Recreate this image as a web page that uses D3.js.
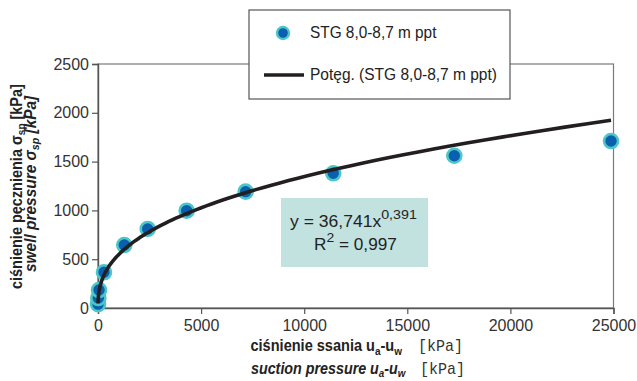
<!DOCTYPE html>
<html>
<head>
<meta charset="utf-8">
<script src="https://cdn.jsdelivr.net/npm/d3@7"></script>
<style>
  body { margin: 0; background: #fff; }
  svg { display: block; font-family: "Liberation Sans", Arial, sans-serif; }
</style>
</head>
<body>
<script>
// measured points (suction pressure kPa, swell pressure kPa)
const suction = [2, 15, 50, 290, 1275, 2410, 4300, 7160, 11410, 17280, 24880];
const swell = [40, 102, 184, 366, 645, 810, 997, 1192, 1380, 1560, 1711];
const xTicks = [0, 5000, 10000, 15000, 20000, 25000];
const yTicks = [0, 500, 1000, 1500, 2000, 2500];
// power trendline y = a * x^b
const fitA = 36.741;
const fitB = 0.391;
const rSquared = '0,997';
const seriesName = 'STG 8,0-8,7 m ppt';

const width = 637, height = 381;
const svg = d3.select('body').append('svg')
  .attr('width', width)
  .attr('height', height);

// squeeze a text element horizontally so it starts at `left` and is `w` wide
function fit(sel, left, w) {
  const bb = sel.node().getBBox();
  const k = w / bb.width;
  sel.attr('transform', `translate(${left},0) scale(${k},1) translate(${-bb.x},0)`);
  return sel;
}

const x = d3.scaleLinear().domain([0, 25000]).range([98, 613.5]);
const y = d3.scaleLinear().domain([0, 2500]).range([308, 64]);

// plot border
svg.append('rect')
  .attr('x', x(0)).attr('y', y(2500))
  .attr('width', x(25000) - x(0)).attr('height', y(0) - y(2500))
  .attr('fill', 'none').attr('stroke', '#7a7a7a').attr('stroke-width', 1.2);

// axes
const xAxis = svg.append('g')
  .attr('transform', `translate(0,${y(0)})`)
  .call(d3.axisBottom(x).tickValues(xTicks).tickSize(6).tickPadding(6).tickFormat(d3.format('d')));
const yAxis = svg.append('g')
  .attr('transform', `translate(${x(0)},0)`)
  .call(d3.axisLeft(y).tickValues(yTicks).tickSize(6).tickPadding(3).tickFormat(d3.format('d')));
[xAxis, yAxis].forEach(g => {
  g.select('.domain').attr('stroke', '#555').attr('stroke-width', 1.4);
  g.selectAll('.tick line').attr('stroke', '#555').attr('stroke-width', 1.2);
  g.selectAll('.tick text')
    .attr('font-family', '"Liberation Sans", Arial, sans-serif')
    .attr('font-size', 16).attr('fill', '#333');
});

// equation box
svg.append('rect')
  .attr('x', 281).attr('y', 198).attr('width', 147).attr('height', 69)
  .attr('fill', '#c2e2e0');
const eq = svg.append('text')
  .attr('y', 227).attr('font-size', 16).attr('fill', '#222');
eq.append('tspan').text(`y = ${String(fitA).replace('.', ',')}x`);
eq.append('tspan').attr('dy', -8).attr('font-size', 13).text(String(fitB).replace('.', ','));
fit(eq, 290, 127);
const r2 = svg.append('text')
  .attr('y', 250).attr('font-size', 16).attr('fill', '#222');
r2.append('tspan').text('R');
r2.append('tspan').attr('dy', -8).attr('font-size', 13).text('2');
r2.append('tspan').attr('dy', 8).text(' = ' + rSquared);
fit(r2, 314, 83);

// points
const pts = suction.map((d, i) => [d, swell[i]]);
svg.append('g').selectAll('circle')
  .data(pts)
  .enter()
  .append('circle')
  .attr('cx', d => x(d[0]))
  .attr('cy', d => y(d[1]))
  .attr('r', 7)
  .attr('fill', '#0a5fae')
  .attr('stroke', '#4cc6c6')
  .attr('stroke-width', 2.6);

// trendline
const xMin = d3.min(suction), xMax = d3.max(suction);
const fitPts = d3.range(0, 201).map(i => {
  const xv = xMin * Math.pow(xMax / xMin, i / 200);
  return [xv, fitA * Math.pow(xv, fitB)];
});
svg.append('path')
  .datum(fitPts)
  .attr('d', d3.line().x(d => x(d[0])).y(d => y(d[1])))
  .attr('fill', 'none')
  .attr('stroke', '#231f20')
  .attr('stroke-width', 3.6);

// legend
svg.append('rect')
  .attr('x', 249).attr('y', 10).attr('width', 261).attr('height', 89)
  .attr('fill', '#fff').attr('stroke', '#555').attr('stroke-width', 1.2);
svg.append('circle')
  .attr('cx', 283).attr('cy', 33).attr('r', 6)
  .attr('fill', '#0a5fae').attr('stroke', '#4cc6c6').attr('stroke-width', 2.4);
fit(svg.append('text')
  .attr('y', 38).attr('font-size', 16).attr('fill', '#222')
  .text(seriesName), 310, 127);
svg.append('line')
  .attr('x1', 264).attr('x2', 304).attr('y1', 75).attr('y2', 75)
  .attr('stroke', '#231f20').attr('stroke-width', 3.6);
fit(svg.append('text')
  .attr('y', 80.5).attr('font-size', 16).attr('fill', '#222')
  .text(`Potęg. (${seriesName})`), 310, 187);

// x axis title
function subTitle(yPos, label, italic) {
  const txt = svg.append('text')
    .attr('y', yPos)
    .attr('font-size', 16).attr('font-weight', 'bold')
    .attr('font-style', italic ? 'italic' : 'normal')
    .attr('fill', '#222');
  txt.append('tspan').text(label + ' u');
  txt.append('tspan').attr('dy', 3.5).attr('font-size', 11).text('a');
  txt.append('tspan').attr('dy', -3.5).text('-u');
  txt.append('tspan').attr('dy', 3.5).attr('font-size', 11).text('w');
  return txt;
}
fit(subTitle(351.5, 'ciśnienie ssania', false), 250.5, 152);
fit(subTitle(374, 'suction pressure', true), 251, 156);
[[418, 351.5], [420, 374]].forEach(([xx, yy]) => {
  fit(svg.append('text')
    .attr('y', yy)
    .attr('font-family', '"Liberation Mono", "Courier New", monospace')
    .attr('font-size', 16).attr('fill', '#333')
    .text('[kPa]'), xx, 45);
});

// y axis title
const yt = svg.append('g').attr('transform', 'translate(0,186.5) rotate(-90)');
const yl1 = yt.append('text')
  .attr('y', 21.7)
  .attr('font-size', 16).attr('font-weight', 'bold').attr('fill', '#222');
yl1.append('tspan').text('ciśnienie pęcznienia σ');
yl1.append('tspan').attr('dy', 3.5).attr('font-size', 11).text('sp');
yl1.append('tspan').attr('dy', -3.5).text(' [kPa]');
fit(yl1, -102.5, 205);
const yl2 = yt.append('text')
  .attr('y', 36)
  .attr('font-size', 16).attr('font-weight', 'bold').attr('font-style', 'italic').attr('fill', '#222');
yl2.append('tspan').text('swell pressure σ');
yl2.append('tspan').attr('dy', 3.5).attr('font-size', 11).text('sp');
yl2.append('tspan').attr('dy', -3.5).text(' [kPa]');
fit(yl2, -85.5, 177);
</script>
</body>
</html>
